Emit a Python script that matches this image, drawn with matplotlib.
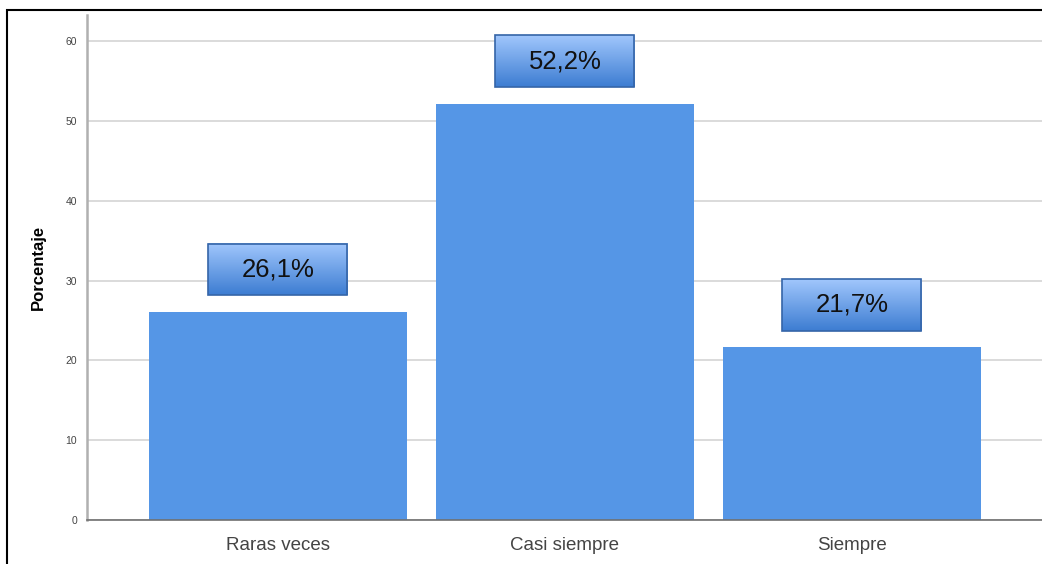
import numpy as np
import matplotlib
matplotlib.use("Agg")
import matplotlib.pyplot as plt
from matplotlib.patches import Rectangle

plt.rcParams['font.family'] = ['Liberation Sans', 'DejaVu Sans']

# Data
categorias = ["Raras veces", "Casi siempre", "Siempre"]
porcentajes = [26.1, 52.2, 21.7]
etiquetas = ["26,1%", "52,2%", "21,7%"]
yticks = [0, 10, 20, 30, 40, 50, 60]

fig = plt.figure(figsize=(10.42, 5.64), dpi=100)
ax = fig.add_axes([87 / 1042, 1 - 520 / 564, 1 - 87 / 1042, (520 - 15) / 564])

x = np.arange(len(categorias))
ax.bar(x, porcentajes, width=0.9, color="#5596e6", zorder=2)

ax.set_xlim(-0.665, 2.662)
ax.set_ylim(0, 63.3)
ax.set_yticks(yticks)
ax.set_yticklabels([str(t) for t in yticks], fontsize=7.5, color="#444444")
ax.set_xticks(x)
ax.set_xticklabels(categorias, fontsize=13.5, color="#444444")
ax.tick_params(axis="y", length=0, pad=7)
ax.tick_params(axis="x", length=0, pad=12)
ax.yaxis.grid(True, color="#d4d4d4", linewidth=1.2, zorder=0)
ax.set_axisbelow(True)

for s in ["top", "right"]:
    ax.spines[s].set_visible(False)
ax.spines["left"].set_color("#b0b0b0")
ax.spines["left"].set_linewidth(1.8)
ax.spines["bottom"].set_color("#707070")
ax.spines["bottom"].set_linewidth(1.2)

ax.set_ylabel("Porcentaje", fontsize=12, fontweight="bold", labelpad=14)

# gradient label boxes above the bars
grad = np.linspace(0, 1, 64).reshape(-1, 1)
cmap = matplotlib.colors.LinearSegmentedColormap.from_list("g", ["#3d7dd2", "#a0c6fc"])
bw = 139 / 287
bh = 52 / 7.98
offset = 5.3
for xi, v, lab in zip(x, porcentajes, etiquetas):
    cy = v + offset
    ext = (xi - bw / 2, xi + bw / 2, cy - bh / 2, cy + bh / 2)
    ax.imshow(grad, extent=ext, origin="lower", cmap=cmap, aspect="auto", zorder=3)
    ax.add_patch(Rectangle((ext[0], ext[2]), bw, bh, fill=False,
                           edgecolor="#3565a8", linewidth=1.2, zorder=4))
    ax.text(xi, cy, lab, ha="center", va="center", fontsize=18.5, color="#111111", zorder=5)

ax.set_xlim(-0.665, 2.662)
ax.set_ylim(0, 63.3)

# outer frame
fig.patches.append(Rectangle((7 / 1042, -0.1), 1.2, 1 - 10 / 564 + 0.1, transform=fig.transFigure,
                             fill=False, edgecolor="black", linewidth=1.5))

fig.savefig("out.png", dpi=100)
